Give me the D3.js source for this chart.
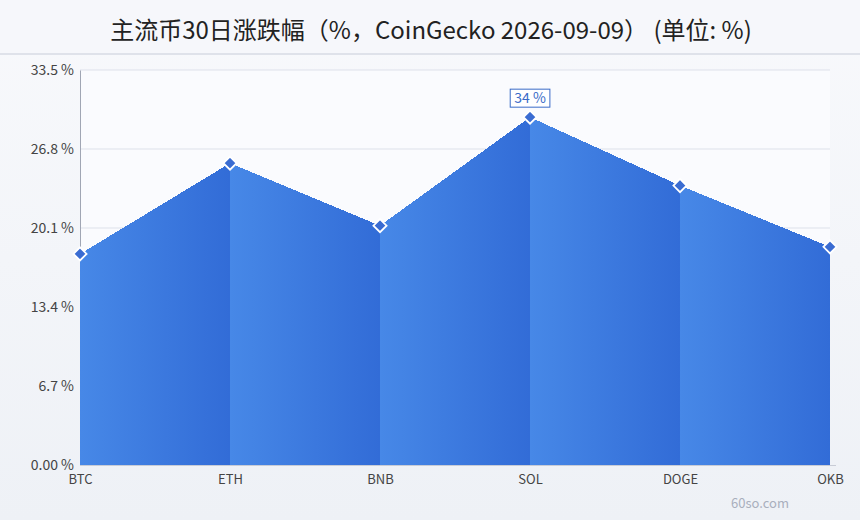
<!DOCTYPE html>
<html><head><meta charset="utf-8">
<script src="https://cdn.jsdelivr.net/npm/d3@7"></script>
<style>body{margin:0;padding:0;}svg{display:block;}</style>
</head><body>
<svg id="c" width="860" height="520"></svg>
<script>
const titleText = "主流币30日涨跌幅（%，CoinGecko 2026-09-09） (单位: %)";
const categories = ["BTC","ETH","BNB","SOL","DOGE","OKB"];
const values = [17.9, 25.6, 20.3, 29.5, 23.7, 18.5];
const yTicks = [0, 6.7, 13.4, 20.1, 26.8, 33.5];
const yTickLabels = ["0.00 %","6.7 %","13.4 %","20.1 %","26.8 %","33.5 %"];
const annotationCats = ["SOL"];
const annotationTexts = ["34 %"];
const watermark = "60so.com";

const W = 860, H = 520;
const M = {left: 80, right: 30, top: 70, bottom: 55};
const font = "'Noto Sans CJK SC','Noto Sans',sans-serif";
const svg = d3.select("#c");
const defs = svg.append("defs");

const bg = defs.append("linearGradient").attr("id","bg").attr("x1",0).attr("x2",0).attr("y1",0).attr("y2",1);
bg.append("stop").attr("offset","0%").attr("stop-color","#f8f9fc");
bg.append("stop").attr("offset","100%").attr("stop-color","#eef1f6");
svg.append("rect").attr("width",W).attr("height",H).attr("fill","url(#bg)");

const segG = defs.append("linearGradient").attr("id","seg").attr("x1",0).attr("x2",1).attr("y1",0).attr("y2",0);
segG.append("stop").attr("offset","0%").attr("stop-color","#4788e7");
segG.append("stop").attr("offset","100%").attr("stop-color","#326cd7");

// title band
svg.append("rect").attr("x",0).attr("y",0).attr("width",W).attr("height",53).attr("fill","#f6f7fb");
svg.append("rect").attr("x",0).attr("y",53).attr("width",W).attr("height",2).attr("fill","#dfe2ea");
svg.append("text").attr("x",431).attr("y",39).attr("text-anchor","middle")
  .attr("font-family",font).attr("font-size",24).attr("fill","#222").text(titleText);

const x = d3.scalePoint().domain(categories).range([M.left, W - M.right]).padding(0);
const y = d3.scaleLinear().domain([0, 33.5]).range([465, 70]);

// plot bg
svg.append("rect").attr("x",M.left).attr("y",y(33.5)).attr("width",W-M.right-M.left).attr("height",y(0)-y(33.5)).attr("fill","#fafbfe");

// grid
svg.append("g").selectAll("line").data(yTicks.slice(1)).join("line")
  .attr("x1",M.left).attr("x2",W-M.right).attr("y1",d=>y(d)).attr("y2",d=>y(d))
  .attr("stroke","#dde1ea").attr("stroke-width",1);

// y axis
const yAxis = d3.axisLeft(y).tickValues(yTicks).tickSize(0).tickPadding(6)
  .tickFormat((d,i)=>yTickLabels[i]);
const ya = svg.append("g").attr("transform",`translate(${M.left},0)`).call(yAxis);
ya.select(".domain").attr("stroke","#a0a6b4");
ya.selectAll("text").attr("font-family",font).attr("font-size",14).attr("fill","#444");

// x axis line
svg.append("line").attr("x1",M.left).attr("x2",W-M.right+6).attr("y1",y(0)+0.5).attr("y2",y(0)+0.5).attr("stroke","#c8ccd6");

// area segments
const pts = categories.map((c,i)=>({c, v: values[i]}));
const area = d3.area().x(d=>x(d.c)).y0(y(0)).y1(d=>y(d.v));
for (let i = 0; i < pts.length - 1; i++) {
  svg.append("path").datum([pts[i], pts[i+1]]).attr("d", area)
    .attr("fill","url(#seg)").attr("shape-rendering","crispEdges");
}

// x axis labels
const xAxis = d3.axisBottom(x).tickSize(0).tickPadding(10);
const xa = svg.append("g").attr("transform",`translate(0,${y(0)})`).call(xAxis);
xa.select(".domain").remove();
xa.selectAll("text").attr("font-family",font).attr("font-size",13).attr("fill","#444");

// markers
svg.append("g").selectAll("path").data(pts).join("path")
  .attr("d", d3.symbol().type(d3.symbolDiamond2).size(110)())
  .attr("transform", d=>`translate(${x(d.c)},${y(d.v)})`)
  .attr("fill","#3a6cd2").attr("stroke","#fff").attr("stroke-width",1.8);

// annotation
annotationCats.forEach((c,i)=>{
  const v = values[categories.indexOf(c)];
  const g = svg.append("g").attr("transform",`translate(${x(c)},${y(v)-19})`);
  const t = g.append("text").attr("text-anchor","middle").attr("y",5)
    .attr("font-family",font).attr("font-size",14).attr("fill","#3a6bc8").text(annotationTexts[i]);
  const bb = t.node().getBBox();
  g.insert("rect","text").attr("x",bb.x-4).attr("y",-9).attr("width",bb.width+8).attr("height",18)
    .attr("fill","#fff").attr("stroke","#3a6bc8").attr("stroke-width",1);
});

svg.append("text").attr("x",760).attr("y",508).attr("text-anchor","middle")
  .attr("font-family",font).attr("font-size",13).attr("fill","#a9afbd").text(watermark);
</script>
</body></html>
